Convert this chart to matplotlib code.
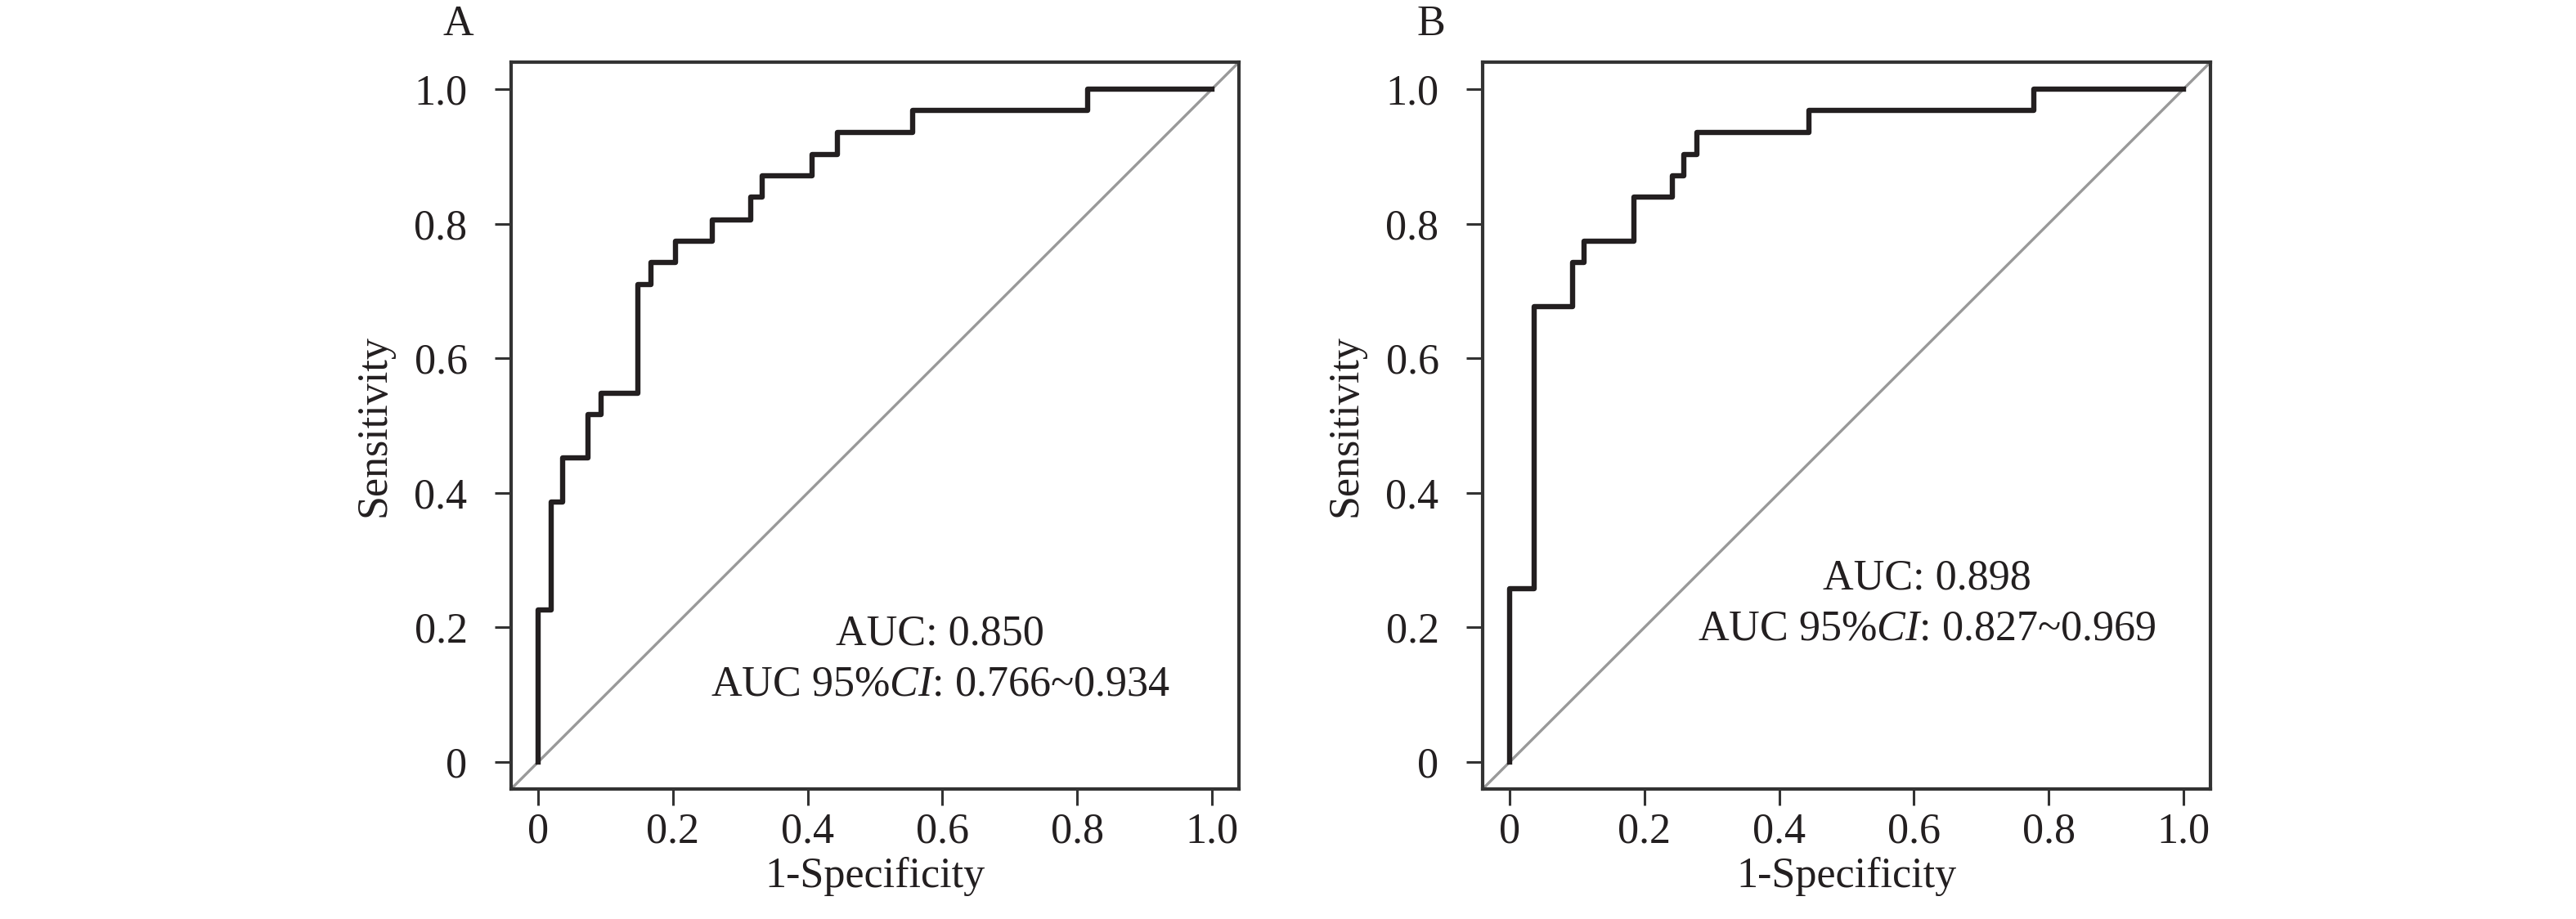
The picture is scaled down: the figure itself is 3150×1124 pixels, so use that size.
import matplotlib
matplotlib.use('Agg')
import matplotlib.pyplot as plt

# ROC curves (31 positives, 54 negatives)
# at fpr[i] the curve climbs to tpr[i], then runs flat to fpr[i+1]
fpr_a = [0, 0.019, 0.037, 0.074, 0.093, 0.148, 0.167, 0.204, 0.259, 0.315,
         0.333, 0.407, 0.444, 0.556, 0.815, 1.0]
tpr_a = [0.226, 0.387, 0.452, 0.516, 0.548, 0.710, 0.742, 0.774, 0.806, 0.839,
         0.871, 0.903, 0.935, 0.968, 1.0, 1.0]

fpr_b = [0, 0.037, 0.093, 0.111, 0.185, 0.241, 0.259, 0.278, 0.444, 0.778, 1.0]
tpr_b = [0.258, 0.677, 0.742, 0.774, 0.839, 0.871, 0.903, 0.935, 0.968, 1.0, 1.0]

auc_a = '0.850'
ci_a = '0.766~0.934'
auc_b = '0.898'
ci_b = '0.827~0.969'

ticks = [0, 0.2, 0.4, 0.6, 0.8, 1.0]
tick_labels = ['0', '0.2', '0.4', '0.6', '0.8', '1.0']

plt.rcParams['font.family'] = ['Liberation Serif', 'DejaVu Serif']
plt.rcParams['mathtext.fontset'] = 'custom'
plt.rcParams['mathtext.rm'] = 'Liberation Serif'
plt.rcParams['mathtext.it'] = 'Liberation Serif:italic'

FS = 37.5
DARK = '#231f20'

fig = plt.figure(figsize=(31.5, 11.24), dpi=100, facecolor='w')
ax_a = fig.add_axes([625 / 3150, 159 / 1124, 890 / 3150, 889 / 1124])
ax_b = fig.add_axes([1813 / 3150, 159 / 1124, 890 / 3150, 889 / 1124])


def draw_roc(ax, fpr, tpr, auc, ci, text_x, text_y):
    ax.plot([-0.04, 1.04], [-0.04, 1.04], color='#999999', lw=2.4, zorder=1)
    ax.step([0] + fpr, [0] + tpr, where='post', color=DARK, lw=4.6, zorder=2)
    ax.set_xlim(-0.04, 1.04)
    ax.set_ylim(-0.04, 1.04)
    ax.set_xticks(ticks)
    ax.set_xticklabels(tick_labels)
    ax.set_yticks(ticks)
    ax.set_yticklabels(tick_labels)
    ax.tick_params(axis='both', direction='out', length=14.5, width=2.2,
                   color='#333333', labelsize=FS, labelcolor=DARK)
    ax.tick_params(axis='x', pad=6)
    ax.tick_params(axis='y', pad=24)
    for spine in ax.spines.values():
        spine.set_linewidth(3.0)
        spine.set_color('#333333')
    ax.set_xlabel('1-Specificity', fontsize=FS, color=DARK, labelpad=5)
    ax.set_ylabel('Sensitivity', fontsize=FS, color=DARK, labelpad=18)
    ax.text(text_x, text_y, 'AUC: ' + auc, fontsize=FS, color=DARK,
            ha='center', va='baseline')
    ax.text(text_x, text_y - 0.0755, r'AUC 95%$\mathit{CI}$: ' + ci, fontsize=FS,
            color=DARK, ha='center', va='baseline')


draw_roc(ax_a, fpr_a, tpr_a, auc_a, ci_a, 0.597, 0.174)
draw_roc(ax_b, fpr_b, tpr_b, auc_b, ci_b, 0.619, 0.257)

fig.text(560 / 3150, 1 - 43 / 1124, 'A', fontsize=FS, color=DARK, ha='center', va='baseline')
fig.text(1750 / 3150, 1 - 43 / 1124, 'B', fontsize=FS, color=DARK, ha='center', va='baseline')

fig.savefig('out.png', dpi=100, facecolor='w')
